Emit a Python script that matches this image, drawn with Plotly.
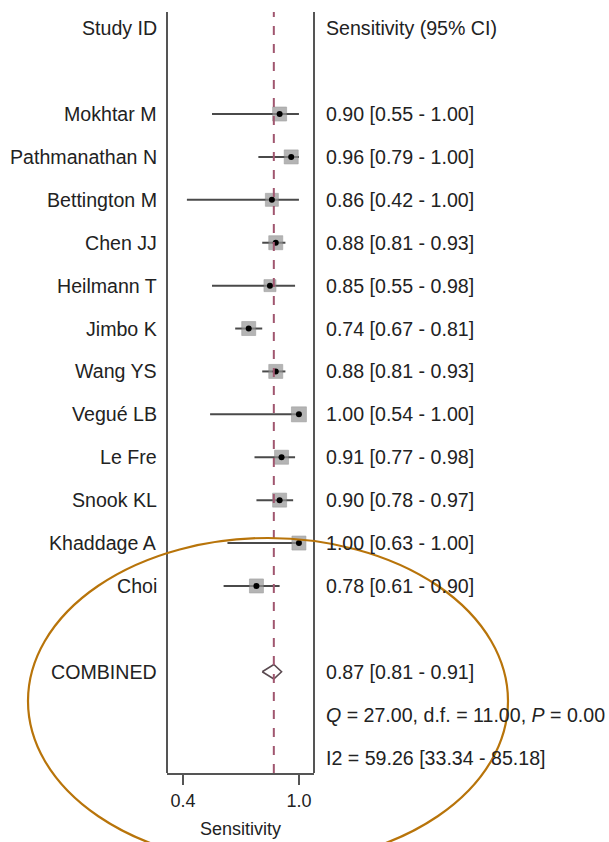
import plotly.graph_objects as go

studies = ["Mokhtar M", "Pathmanathan N", "Bettington M", "Chen JJ", "Heilmann T",
           "Jimbo K", "Wang YS", "Vegué LB", "Le Fre", "Snook KL", "Khaddage A", "Choi"]
sens = [0.90, 0.96, 0.86, 0.88, 0.85, 0.74, 0.88, 1.00, 0.91, 0.90, 1.00, 0.78]
lo = [0.55, 0.79, 0.42, 0.81, 0.55, 0.67, 0.81, 0.54, 0.77, 0.78, 0.63, 0.61]
hi = [1.00, 1.00, 1.00, 0.93, 0.98, 0.81, 0.93, 1.00, 0.98, 0.97, 1.00, 0.90]
marker_px = [14, 14, 13, 14, 12, 14, 14, 15, 14, 14, 14, 14]
combined = {"est": 0.87, "lo": 0.81, "hi": 0.91}
q_text = "<i>Q</i> = 27.00, d.f. = 11.00, <i>P</i> = 0.00"
i2_text = "I2 = 59.26 [33.34 - 85.18]"
x_ticks = [0.4, 1.0]
x_tick_labels = ["0.4", "1.0"]

W, H = 609, 842


def px(v):
    return v / W


def py(v):
    return 1 - v / H


FONT = "Liberation Sans, Arial, Helvetica, sans-serif"
TXT = "#222222"
FS = 19.6
rows = list(range(2, 2 + len(studies)))
comb_row = rows[-1] + 2
q_row = comb_row + 1
i2_row = comb_row + 2

fig = go.Figure()

for r, l, h in zip(rows, lo, hi):
    fig.add_trace(go.Scatter(x=[l, h], y=[r, r], mode="lines",
                             line=dict(color="#4a4a4a", width=2),
                             showlegend=False, hoverinfo="skip"))
fig.add_trace(go.Scatter(x=sens, y=rows, mode="markers",
                         marker=dict(symbol="square", size=marker_px, color="#959595",
                                     line=dict(width=0.6, color="#777777")),
                         showlegend=False, hoverinfo="skip"))
fig.add_trace(go.Scatter(x=sens, y=rows, mode="markers",
                         marker=dict(symbol="circle", size=6, color="black"),
                         showlegend=False, hoverinfo="skip"))
dh = 0.17
fig.add_trace(go.Scatter(
    x=[combined["lo"], combined["est"], combined["hi"], combined["est"], combined["lo"]],
    y=[comb_row, comb_row - dh, comb_row, comb_row + dh, comb_row],
    mode="lines", line=dict(color="#5a4a50", width=1.6),
    showlegend=False, hoverinfo="skip"))

fig.add_shape(type="line", xref="x", yref="y domain", x0=combined["est"], x1=combined["est"],
              y0=0, y1=1, line=dict(color="#a0566f", width=2, dash="dash"))
for xd in (0, 1):
    fig.add_shape(type="line", xref="x domain", yref="y domain", x0=xd, x1=xd, y0=0, y1=1,
                  line=dict(color="#555555", width=2))

annots = []
annots.append(dict(x=px(159), y=0, xref="paper", yref="y", text="Study ID",
                   xanchor="right", yanchor="middle", showarrow=False))
annots.append(dict(x=px(324), y=0, xref="paper", yref="y", text="Sensitivity (95% CI)",
                   xanchor="left", yanchor="middle", showarrow=False))
for r, s, e, l, h in zip(rows, studies, sens, lo, hi):
    annots.append(dict(x=px(159), y=r, xref="paper", yref="y", text=s,
                       xanchor="right", yanchor="middle", showarrow=False))
    annots.append(dict(x=px(324), y=r, xref="paper", yref="y",
                       text=f"{e:.2f} [{l:.2f} - {h:.2f}]",
                       xanchor="left", yanchor="middle", showarrow=False))
annots.append(dict(x=px(159), y=comb_row, xref="paper", yref="y", text="COMBINED",
                   xanchor="right", yanchor="middle", showarrow=False))
annots.append(dict(x=px(324), y=comb_row, xref="paper", yref="y",
                   text=f"{combined['est']:.2f} [{combined['lo']:.2f} - {combined['hi']:.2f}]",
                   xanchor="left", yanchor="middle", showarrow=False))
annots.append(dict(x=px(324), y=q_row, xref="paper", yref="y", text=q_text,
                   xanchor="left", yanchor="middle", showarrow=False))
annots.append(dict(x=px(324), y=i2_row, xref="paper", yref="y", text=i2_text,
                   xanchor="left", yanchor="middle", showarrow=False))
annots.append(dict(x=px(240), y=py(829), xref="paper", yref="paper", text="Sensitivity",
                   xanchor="center", yanchor="middle", showarrow=False,
                   font=dict(size=18)))

fig.add_shape(type="circle", xref="paper", yref="paper",
              x0=px(28), x1=px(508), y0=py(864), y1=py(538),
              line=dict(color="#b8740a", width=2.2), fillcolor="rgba(0,0,0,0)")

fig.update_layout(
    width=W, height=H, margin=dict(l=0, r=0, t=0, b=0),
    paper_bgcolor="white", plot_bgcolor="white",
    font=dict(family=FONT, size=FS, color=TXT),
    annotations=annots, showlegend=False,
    xaxis=dict(domain=[px(167), px(314)], range=[0.317, 1.078],
               tickvals=x_ticks, ticktext=x_tick_labels,
               showgrid=False, zeroline=False, showline=True, linecolor="#555555",
               linewidth=2, ticks="outside", ticklen=10, tickwidth=2, tickcolor="#555555",
               tickfont=dict(size=18, color=TXT)),
    yaxis=dict(domain=[py(773), py(12)], range=[17.36, -0.378],
               showgrid=False, zeroline=False, showticklabels=False, showline=False),
)

fig.write_html(
    "out.html",
    config={"displayModeBar": False},
    post_script="document.body.style.margin='0';document.body.style.overflow='hidden';",
)
